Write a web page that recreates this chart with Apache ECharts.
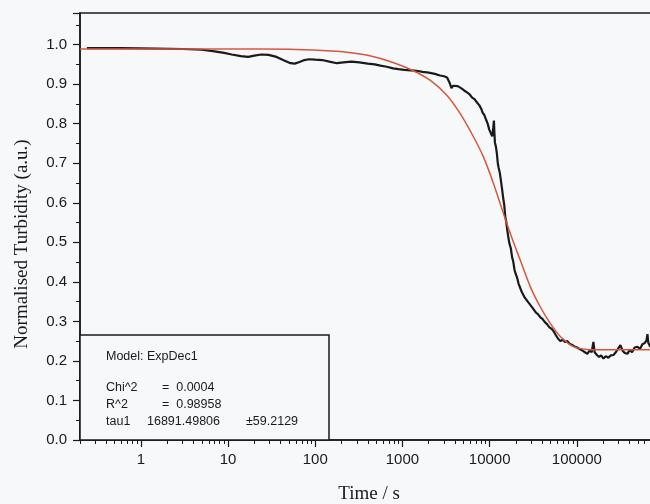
<!DOCTYPE html>
<html lang="en">
<head>
    <meta charset="UTF-8">
    <title>Normalised Turbidity vs Time</title>
    <script src="https://cdn.jsdelivr.net/npm/echarts@6.0.0/dist/echarts.min.js"></script>
    <style>
        html, body { margin: 0; padding: 0; background: #f6f8f9; }
        #chart { width: 650px; height: 504px; }
    </style>
</head>
<body>
    <div id="chart"></div>
    <script>
        var dataTime = [0.24, 0.6, 1.5, 3, 5, 7, 9, 11, 14, 17, 20, 24, 29, 36, 44, 52, 58, 66, 75, 85,
            100, 120, 145, 177, 210, 260, 320, 400, 480, 560, 660, 780, 900, 1050, 1250, 1450, 1700, 2000, 2350, 2700,
            3000, 3250, 3450, 3650, 3800, 4000, 4300, 4700, 5100, 5500, 5900, 6300, 6700, 7200, 7600, 8000, 8300, 8700, 9100, 9500,
            9900, 10300, 10700, 11000, 11200, 11350, 11500, 11800, 12100, 12400, 12700, 13100, 13500, 13900, 14300, 14700, 15100, 15500, 16000, 16400,
            16900, 17500, 18100, 18700, 19300, 19900, 20700, 21500, 22400, 23300, 24300, 25300, 26500, 27800, 29200, 30600, 32200, 34000, 36000, 38200,
            40500, 43000, 45500, 48500, 51500, 54500, 57500, 61000, 65000, 69000, 73000, 78000, 83000, 89000, 95000, 101000, 108000, 116000, 124000, 132000,
            140000, 148000, 155000, 160000, 170000, 180000, 190000, 202000, 215000, 230000, 245000, 263000, 280000, 295000, 316000, 335000, 355000, 380000, 405000, 430000,
            460000, 496000, 530000, 565000, 600000, 630000, 646000, 660000, 690000, 720000];
        var dataTurbidity = [0.991, 0.991, 0.990, 0.989, 0.987, 0.983, 0.979, 0.975, 0.971, 0.969, 0.972, 0.975, 0.974, 0.969, 0.960, 0.953, 0.952, 0.956, 0.961, 0.963,
            0.962, 0.961, 0.957, 0.953, 0.955, 0.957, 0.955, 0.952, 0.950, 0.947, 0.944, 0.940, 0.938, 0.936, 0.935, 0.934, 0.931, 0.929, 0.926, 0.922,
            0.920, 0.917, 0.905, 0.890, 0.896, 0.900, 0.895, 0.890, 0.884, 0.879, 0.874, 0.866, 0.862, 0.853, 0.847, 0.838, 0.828, 0.822, 0.810, 0.800,
            0.785, 0.780, 0.768, 0.790, 0.808, 0.775, 0.752, 0.742, 0.725, 0.700, 0.688, 0.675, 0.655, 0.634, 0.612, 0.595, 0.565, 0.552, 0.528, 0.512,
            0.496, 0.485, 0.462, 0.450, 0.430, 0.420, 0.410, 0.395, 0.390, 0.375, 0.372, 0.360, 0.358, 0.348, 0.344, 0.336, 0.332, 0.322, 0.318, 0.310,
            0.306, 0.298, 0.293, 0.285, 0.281, 0.274, 0.265, 0.256, 0.250, 0.254, 0.248, 0.250, 0.243, 0.240, 0.236, 0.234, 0.230, 0.226, 0.222, 0.218,
            0.226, 0.222, 0.248, 0.222, 0.215, 0.210, 0.214, 0.206, 0.212, 0.208, 0.214, 0.215, 0.222, 0.218, 0.240, 0.226, 0.220, 0.218, 0.228, 0.222,
            0.234, 0.236, 0.230, 0.242, 0.245, 0.252, 0.268, 0.246, 0.238, 0.236];

        // ExpDec1 fit (red curve)
        var fitTime = [0.2, 1, 3, 10, 50, 120, 230, 400, 778, 1331, 2070, 3222, 4580, 6514, 8485, 11060, 14410, 17210, 22430, 29230, 38040,
            49570, 64600, 91900, 131000, 200000, 400000, 1000000];
        var fitTurbidity = [0.989, 0.989, 0.989, 0.989, 0.988, 0.985, 0.981, 0.973, 0.955, 0.934, 0.910, 0.872, 0.826, 0.767, 0.716, 0.649, 0.573, 0.523, 0.455, 0.388, 0.337,
            0.295, 0.262, 0.236, 0.229, 0.228, 0.228, 0.228];

        var xLabelValues = [1, 10, 100, 1000, 10000, 100000];
        var xMinorValues = [];
        [0.1, 1, 10, 100, 1000, 10000, 100000].forEach(function (d) {
            for (var k = 2; k <= 9; k++) {
                var v = +(k * d).toPrecision(3);
                if (v >= 0.2 && v <= 1000000) xMinorValues.push(v);
            }
        });

        // fit report: [text, x, y]
        var reportText = [
            ['Model: ExpDec1', 106, 357],
            ['Chi^2', 106, 388], ['=  0.0004', 162, 388],
            ['R^2', 106, 405], ['=  0.98958', 162, 405],
            ['tau1', 106, 422], ['16891.49806', 147, 422], ['\u00b159.2129', 246, 422]
        ];

        function zip(a, b) {
            return a.map(function (v, i) { return [v, b[i]]; });
        }

        var chart = echarts.init(document.getElementById('chart'));
        var sans = 'Liberation Sans, Arial, sans-serif';
        var serif = 'Liberation Serif, Times New Roman, serif';
        var ink = '#1a1a1a';
        var bg = '#f6f8f9';

        var graphics = [{
            type: 'text', x: 22, y: 244, rotation: Math.PI / 2,
            style: {
                text: 'Normalised Turbidity (a.u.)', fill: ink,
                font: '19px ' + serif, align: 'center', verticalAlign: 'middle'
            }
        }, {
            type: 'text', x: 369, y: 494,
            style: {
                text: 'Time / s', fill: ink,
                font: '19px ' + serif, align: 'center', verticalAlign: 'middle'
            }
        }, {
            type: 'rect', z: 10,
            shape: { x: 80, y: 335, width: 249, height: 105 },
            style: { fill: bg, stroke: ink, lineWidth: 1.5 }
        }];
        reportText.forEach(function (r) {
            graphics.push({
                type: 'text', x: r[1], y: r[2], z: 12,
                style: { text: r[0], fill: ink, font: '12.5px ' + sans, verticalAlign: 'middle' }
            });
        });

        chart.setOption({
            backgroundColor: bg,
            animation: false,
            grid: {
                left: 80, right: -14, top: 13, bottom: 64,
                outerBoundsMode: 'none',
                containLabel: false,
                show: true, borderColor: ink, borderWidth: 1.5
            },
            xAxis: [{
                type: 'log', logBase: 10, min: 0.2, max: 1000000,
                position: 'bottom',
                axisLine: { lineStyle: { color: ink, width: 1.5 } },
                axisTick: { customValues: xLabelValues, length: 7, lineStyle: { color: ink, width: 1.2 } },
                axisLabel: {
                    customValues: xLabelValues, color: ink, fontFamily: sans, fontSize: 15, margin: 12,
                    formatter: function (v) { return String(Math.round(v)); }
                },
                splitLine: { show: false }
            }, {
                type: 'log', logBase: 10, min: 0.2, max: 1000000,
                position: 'bottom',
                axisLine: { show: false },
                axisTick: { customValues: xMinorValues, length: 4, lineStyle: { color: ink, width: 1 } },
                axisLabel: { show: false },
                splitLine: { show: false }
            }],
            yAxis: {
                type: 'value', min: 0, max: 1.08, interval: 0.1,
                axisLine: { show: true, lineStyle: { color: ink, width: 1.5 } },
                axisTick: { show: true, length: 7, lineStyle: { color: ink, width: 1.2 } },
                minorTick: { show: true, splitNumber: 2, length: 4, lineStyle: { color: ink, width: 1 } },
                axisLabel: {
                    color: ink, fontFamily: sans, fontSize: 15, margin: 13, showMaxLabel: false,
                    formatter: function (v) { return v.toFixed(1); }
                },
                splitLine: { show: false }
            },
            series: [{
                name: 'data',
                type: 'line',
                data: zip(dataTime, dataTurbidity),
                showSymbol: false,
                lineStyle: { color: ink, width: 2.2 },
                z: 3
            }, {
                name: 'fit',
                type: 'line',
                data: zip(fitTime, fitTurbidity),
                showSymbol: false,
                smooth: 0.3,
                lineStyle: { color: '#d6583c', width: 1.5 },
                z: 4
            }],
            graphic: graphics
        });
    </script>
</body>
</html>
